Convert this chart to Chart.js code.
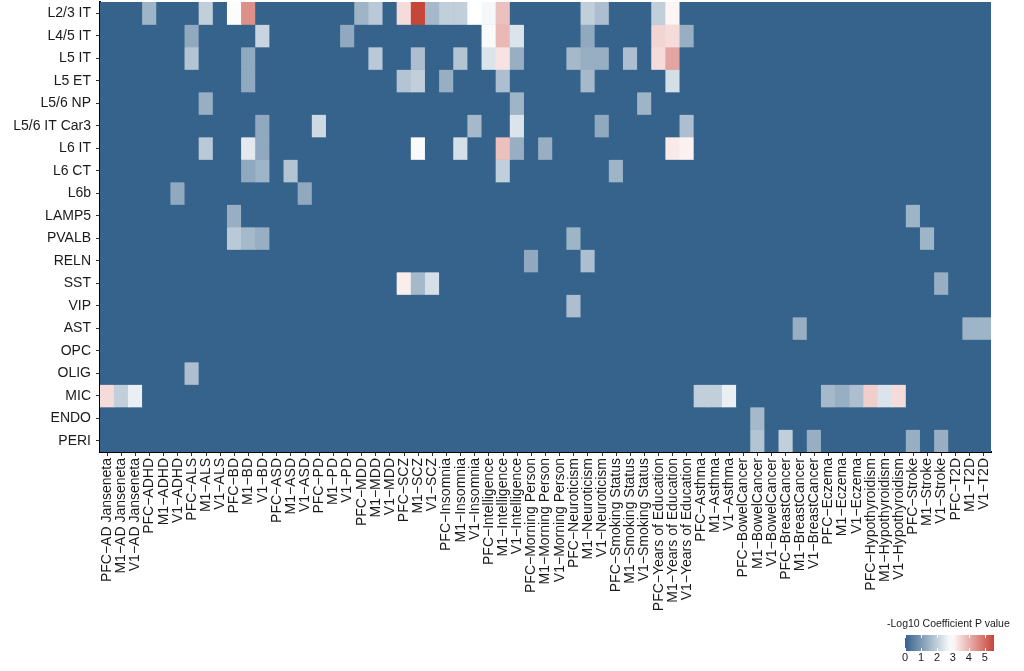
<!DOCTYPE html>
<html>
<head>
<meta charset="utf-8">
<script src="https://cdn.jsdelivr.net/npm/chart.js@4.4.1/dist/chart.umd.min.js"></script>
<style>
  body { margin: 0; background: #fff; font-family: "Liberation Sans", Arial, sans-serif; }
  #wrap { position: relative; width: 1024px; height: 671px; }
  #key { position: absolute; left: 884px; top: 614px; width: 140px; height: 57px; color: #1a1a1a; }
  #key .title { position: absolute; left: 3px; top: 3px; font-size: 10.5px; white-space: nowrap; }
  #key .bar { position: absolute; left: 21px; top: 21px; width: 89px; height: 16px; }
  #key .tk { position: absolute; width: 1px; background: #fff; height: 3px; }
  #key .lab { position: absolute; top: 37px; font-size: 11px; width: 12px; margin-left: -6px; text-align: center; }
</style>
</head>
<body>
<div id="wrap">
  <canvas id="heat"></canvas>
  <div id="key">
    <div class="title">-Log10 Coefficient P value</div>
    <div class="bar" id="keybar"></div>
  </div>
</div>
<script>
// rows (cell types), top to bottom
const cellTypes = ['L2/3 IT','L4/5 IT','L5 IT','L5 ET','L5/6 NP','L5/6 IT Car3','L6 IT','L6 CT','L6b','LAMP5',
                   'PVALB','RELN','SST','VIP','AST','OPC','OLIG','MIC','ENDO','PERI'];

// columns = region x trait
const regions = ['PFC','M1','V1'];
const traits = ['AD Janseneta','ADHD','ALS','BD','ASD','PD','MDD','SCZ','Insomnia','Intelligence',
                'Morning Person','Neuroticism','Smoking Status','Years of Education','Asthma','BowelCancer',
                'BreastCancer','Eczema','Hypothyroidism','Stroke','T2D'];
const columns = [];
traits.forEach(t => regions.forEach(r => columns.push(r + '\u2212' + t)));

// -log10 p values, one array per cell type, 63 columns (3 regions per trait)
//              AD          ADHD        ALS         BD          ASD         PD          MDD         SCZ            Insomnia       Intelligence   Morning     Neurotic.   Smoking     YearsEdu       Asthma      Bowel       Breast      Eczema      Hypothyr.   Stroke      T2D
const L23IT  = [0,0,0,      1.5,0,0,    0,2.0,0,    2.85,4.5,0, 0,0,0,      0,0,0,      1.5,1.9,0,  3.4,5.55,1.6,  2.0,2.0,2.9,   2.75,3.8,0,    0,0,0,      0,2.0,1.7,  0,0,0,      2.0,3.05,0,    0,0,0,      0,0,0,      0,0,0,      0,0,0,      0,0,0,      0,0,0,      0,0,0];
const L45IT  = [0,0,0,      0,0,0,      1.3,0,0,    0,0,2.1,    0,0,0,      0,0,1.3,    0,0,0,      0,0,0,         0,0,0,         2.8,3.9,2.4,   0,0,0,      0,1.3,0,    0,0,0,      3.5,3.4,1.4,   0,0,0,      0,0,0,      0,0,0,      0,0,0,      0,0,0,      0,0,0,      0,0,0];
const L5IT   = [0,0,0,      0,0,0,      1.8,0,0,    0,1.3,0,    0,0,0,      0,0,0,      0,1.9,0,    0,1.7,0,       0,1.8,0,       2.4,3.3,1.4,   0,0,0,      1.6,1.4,1.4,0,1.7,0,    3.4,4.2,0,     0,0,0,      0,0,0,      0,0,0,      0,0,0,      0,0,0,      0,0,0,      0,0,0];
const L5ET   = [0,0,0,      0,0,0,      0,0,0,      0,1.3,0,    0,0,0,      0,0,0,      0,0,0,      1.8,2.0,0,     1.4,0,0,       0,1.7,0,       0,0,0,      0,1.6,0,    0,0,0,      0,2.3,0,       0,0,0,      0,0,0,      0,0,0,      0,0,0,      0,0,0,      0,0,0,      0,0,0];
const L56NP  = [0,0,0,      0,0,0,      0,1.4,0,    0,0,0,      0,0,0,      0,0,0,      0,0,0,      0,0,0,         0,0,0,         0,0,1.5,       0,0,0,      0,0,0,      0,0,1.5,    0,0,0,         0,0,0,      0,0,0,      0,0,0,      0,0,0,      0,0,0,      0,0,0,      0,0,0];
const L56Car3= [0,0,0,      0,0,0,      0,0,0,      0,0,1.3,    0,0,0,      2.2,0,0,    0,0,0,      0,0,0,         0,0,1.6,       0,0,2.4,       0,0,0,      0,0,1.3,    0,0,0,      0,0,1.7,       0,0,0,      0,0,0,      0,0,0,      0,0,0,      0,0,0,      0,0,0,      0,0,0];
const L6IT   = [0,0,0,      0,0,0,      0,1.9,0,    0,2.5,1.3,  0,0,0,      0,0,0,      0,0,0,      0,2.8,0,       0,2.3,0,       0,3.8,1.4,     0,1.4,0,    0,0,0,      0,0,0,      0,3.2,3.1,     0,0,0,      0,0,0,      0,0,0,      0,0,0,      0,0,0,      0,0,0,      0,0,0];
const L6CT   = [0,0,0,      0,0,0,      0,0,0,      0,1.3,1.5,  0,1.8,0,    0,0,0,      0,0,0,      0,0,0,         0,0,0,         0,2.0,0,       0,0,0,      0,0,0,      1.5,0,0,    0,0,0,         0,0,0,      0,0,0,      0,0,0,      0,0,0,      0,0,0,      0,0,0,      0,0,0];
const L6b    = [0,0,0,      0,0,1.3,    0,0,0,      0,0,0,      0,0,1.3,    0,0,0,      0,0,0,      0,0,0,         0,0,0,         0,0,0,         0,0,0,      0,0,0,      0,0,0,      0,0,0,         0,0,0,      0,0,0,      0,0,0,      0,0,0,      0,0,0,      0,0,0,      0,0,0];
const LAMP5  = [0,0,0,      0,0,0,      0,0,0,      1.4,0,0,    0,0,0,      0,0,0,      0,0,0,      0,0,0,         0,0,0,         0,0,0,         0,0,0,      0,0,0,      0,0,0,      0,0,0,         0,0,0,      0,0,0,      0,0,0,      0,0,0,      0,0,0,      1.5,0,0,    0,0,0];
const PVALB  = [0,0,0,      0,0,0,      0,0,0,      1.9,1.6,1.4,0,0,0,      0,0,0,      0,0,0,      0,0,0,         0,0,0,         0,0,0,         0,0,0,      1.5,0,0,    0,0,0,      0,0,0,         0,0,0,      0,0,0,      0,0,0,      0,0,0,      0,0,0,      0,1.5,0,    0,0,0];
const RELN   = [0,0,0,      0,0,0,      0,0,0,      0,0,0,      0,0,0,      0,0,0,      0,0,0,      0,0,0,         0,0,0,         0,0,0,         1.3,0,0,    0,1.7,0,    0,0,0,      0,0,0,         0,0,0,      0,0,0,      0,0,0,      0,0,0,      0,0,0,      0,0,0,      0,0,0];
const SST    = [0,0,0,      0,0,0,      0,0,0,      0,0,0,      0,0,0,      0,0,0,      0,0,0,      3.15,1.6,2.3,  0,0,0,         0,0,0,         0,0,0,      0,0,0,      0,0,0,      0,0,0,         0,0,0,      0,0,0,      0,0,0,      0,0,0,      0,0,0,      0,0,1.4,    0,0,0];
const VIP    = [0,0,0,      0,0,0,      0,0,0,      0,0,0,      0,0,0,      0,0,0,      0,0,0,      0,0,0,         0,0,0,         0,0,0,         0,0,0,      1.7,0,0,    0,0,0,      0,0,0,         0,0,0,      0,0,0,      0,0,0,      0,0,0,      0,0,0,      0,0,0,      0,0,0];
const AST    = [0,0,0,      0,0,0,      0,0,0,      0,0,0,      0,0,0,      0,0,0,      0,0,0,      0,0,0,         0,0,0,         0,0,0,         0,0,0,      0,0,0,      0,0,0,      0,0,0,         0,0,0,      0,0,0,      0,1.4,0,    0,0,0,      0,0,0,      0,0,0,      0,1.5,1.5];
const OPC    = [0,0,0,      0,0,0,      0,0,0,      0,0,0,      0,0,0,      0,0,0,      0,0,0,      0,0,0,         0,0,0,         0,0,0,         0,0,0,      0,0,0,      0,0,0,      0,0,0,         0,0,0,      0,0,0,      0,0,0,      0,0,0,      0,0,0,      0,0,0,      0,0,0];
const OLIG   = [0,0,0,      0,0,0,      1.7,0,0,    0,0,0,      0,0,0,      0,0,0,      0,0,0,      0,0,0,         0,0,0,         0,0,0,         0,0,0,      0,0,0,      0,0,0,      0,0,0,         0,0,0,      0,0,0,      0,0,0,      0,0,0,      0,0,0,      0,0,0,      0,0,0];
const MIC    = [3.4,2.0,2.6,0,0,0,      0,0,0,      0,0,0,      0,0,0,      0,0,0,      0,0,0,      0,0,0,         0,0,0,         0,0,0,         0,0,0,      0,0,0,      0,0,0,      0,0,0,         2.0,2.0,2.6,0,0,0,      0,0,0,      1.6,1.4,1.7,3.6,2.4,3.4,0,0,0,      0,0,0];
const ENDO   = [0,0,0,      0,0,0,      0,0,0,      0,0,0,      0,0,0,      0,0,0,      0,0,0,      0,0,0,         0,0,0,         0,0,0,         0,0,0,      0,0,0,      0,0,0,      0,0,0,         0,0,0,      0,1.6,0,    0,0,0,      0,0,0,      0,0,0,      0,0,0,      0,0,0];
const PERI   = [0,0,0,      0,0,0,      0,0,0,      0,0,0,      0,0,0,      0,0,0,      0,0,0,      0,0,0,         0,0,0,         0,0,0,         0,0,0,      0,0,0,      0,0,0,      0,0,0,         0,0,0,      0,1.8,0,    2.0,0,1.4,  0,0,0,      0,0,0,      1.4,0,1.4,  0,0,0];

const allRows = [L23IT,L45IT,L5IT,L5ET,L56NP,L56Car3,L6IT,L6CT,L6b,LAMP5,PVALB,RELN,SST,VIP,AST,OPC,OLIG,MIC,ENDO,PERI];
const keyTicks = [0,1,2,3,4,5];

// colour scale: blue -> white -> red
const LOW = [54, 99, 139], MID = [255, 255, 255], HIGH = [199, 69, 57];
const MIDV = 2.9, MAXV = 5.57;
function fillFor(v) {
  let a, b, t;
  if (v <= MIDV) { a = LOW; b = MID; t = v / MIDV; }
  else { a = MID; b = HIGH; t = Math.min(1, (v - MIDV) / (MAXV - MIDV)); }
  const c = a.map((x, k) => Math.round(x + (b[k] - x) * t));
  return 'rgb(' + c.join(',') + ')';
}

const datasets = allRows.map((vals, i) => ({
  label: cellTypes[i],
  data: columns.map(() => [i - 0.5, i + 0.5]),
  backgroundColor: vals.map(fillFor),
  borderWidth: 0,
  borderSkipped: false,
  barPercentage: 1,
  categoryPercentage: 1,
  grouped: false
}));

// dark backdrop behind the cells so no seams show
const backdrop = {
  id: 'backdrop',
  beforeDatasetsDraw(chart) {
    const a = chart.chartArea, ctx = chart.ctx;
    ctx.save();
    ctx.fillStyle = fillFor(0);
    ctx.fillRect(a.left, a.top, a.right - a.left, a.bottom - a.top);
    ctx.restore();
  }
};

const txt = { family: '"Liberation Sans", Arial, sans-serif', size: 14 };

new Chart(document.getElementById('heat'), {
  type: 'bar',
  data: { labels: columns, datasets: datasets },
  plugins: [backdrop],
  options: {
    responsive: true,
    maintainAspectRatio: false,
    animation: false,
    layout: { padding: { top: 2, right: 33, left: 0, bottom: 0 } },
    plugins: { legend: { display: false }, tooltip: { enabled: false } },
    scales: {
      x: {
        type: 'category',
        offset: true,
        grid: { drawOnChartArea: false, offset: false, tickLength: 4, color: '#333' },
        border: { display: true, color: '#000', width: 2 },
        ticks: { autoSkip: false, maxRotation: 90, minRotation: 90, padding: 2, color: '#1a1a1a', font: txt },
        afterFit: (s) => { s.height = 219; s.paddingLeft = 0; s.paddingRight = 0; }
      },
      y: {
        type: 'linear',
        min: -0.5,
        max: 19.5,
        reverse: true,
        afterBuildTicks: (s) => { s.ticks = cellTypes.map((_, i) => ({ value: i })); },
        grid: { drawOnChartArea: false, tickLength: 4, color: '#333' },
        border: { display: true, color: '#000', width: 2 },
        ticks: { padding: 5, color: '#1a1a1a', font: txt, callback: (v) => cellTypes[v] },
        afterFit: (s) => { s.width = 100; s.paddingTop = 0; s.paddingBottom = 0; }
      }
    }
  }
});

// colour key
const keybar = document.getElementById('keybar');
const stops = [];
for (let k = 0; k <= 20; k++) {
  const v = MAXV * k / 20;
  stops.push(fillFor(v) + ' ' + (100 * k / 20) + '%');
}
keybar.style.background = 'linear-gradient(to right,' + stops.join(',') + ')';
const key = document.getElementById('key');
const pxPerUnit = 89 / MAXV;
keyTicks.forEach(v => {
  const x = 21 + v * pxPerUnit;
  ['21px', '34px'].forEach(top => {
    const t = document.createElement('div');
    t.className = 'tk';
    t.style.left = x + 'px';
    t.style.top = top;
    key.appendChild(t);
  });
  const l = document.createElement('div');
  l.className = 'lab';
  l.style.left = x + 'px';
  l.textContent = v;
  key.appendChild(l);
});
</script>
</body>
</html>
